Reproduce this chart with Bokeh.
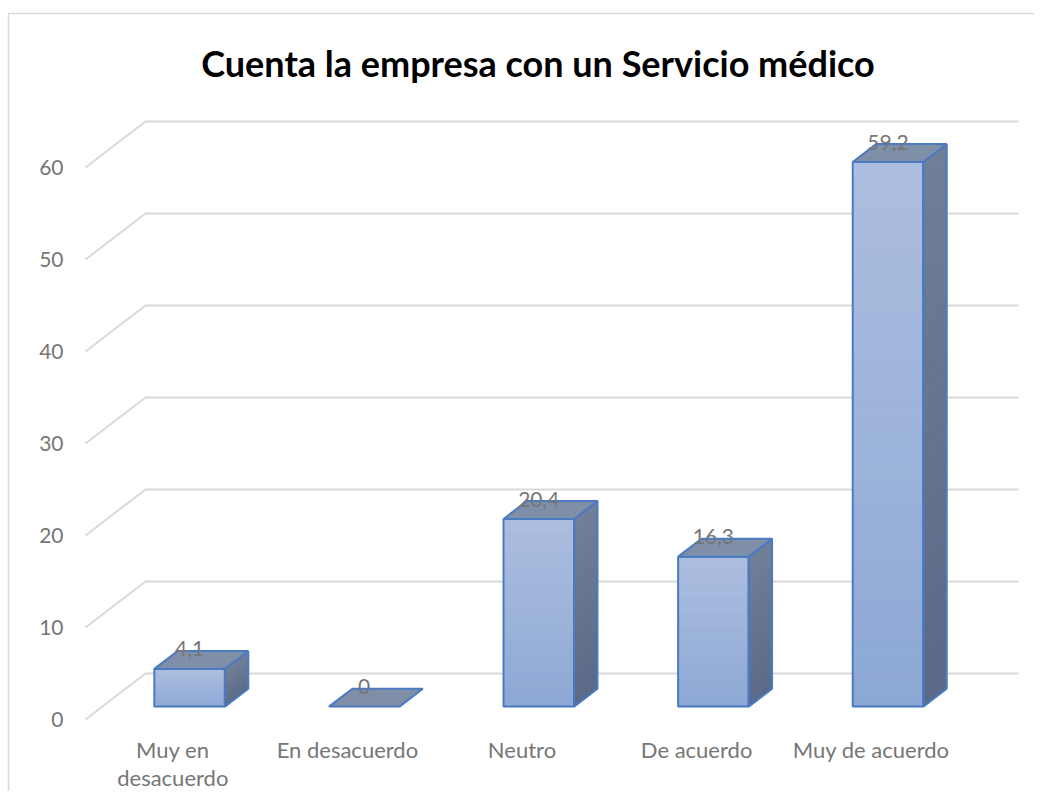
import numpy as np
from bokeh.plotting import figure
from bokeh.models import Range1d
from bokeh.core.properties import value
from bokeh.embed import file_html
from bokeh.resources import INLINE

# ---- data ----
categories = ["Muy en\ndesacuerdo", "En desacuerdo", "Neutro", "De acuerdo", "Muy de acuerdo"]
values = [4.1, 0, 20.4, 16.3, 59.2]
value_labels = ["4,1", "0", "20,4", "16,3", "59,2"]
y_ticks = [0, 10, 20, 30, 40, 50, 60]
title_text = "Cuenta la empresa con un Servicio médico"

# ---- layout / projection ----
W, H = 1034, 791
PX_X = 174.6      # px per category
PX_Y = 9.2        # px per value unit
X0_PX = 85        # canvas px of x=-0.5 (front plane)
Y0_PX = 719       # canvas px (from top) of value 0 (front plane)
xs_start = -0.5 - X0_PX / PX_X
xs_end = xs_start + W / PX_X
ys_end = Y0_PX / PX_Y
ys_start = ys_end - H / PX_Y

DX = 60 / PX_X    # full depth shift (x, data units)
DY = 46 / PX_Y    # full depth shift (y, data units)
F1, F2 = 0.28, 0.67  # bar front/back depth fractions
HW = 0.202           # half bar width

FONT = value("Lato")
GRAY = "#767676"

def P(x, v, f):
    return x + f * DX, v + f * DY

p = figure(width=W, height=H, x_range=Range1d(xs_start, xs_end),
           y_range=Range1d(ys_start, ys_end), output_backend="svg",
           toolbar_location=None, min_border=0,
           x_axis_location=None, y_axis_location=None)
p.grid.visible = False
p.outline_line_color = None
p.background_fill_color = "white"
p.border_fill_color = "white"

# chart border (left and top)
bx = xs_start + 8 / PX_X
by = ys_end - 13 / PX_Y
p.line([bx, bx, xs_end], [ys_start, by, by], line_color="#d9d9d9", line_width=1.5)

# gridlines: left diagonal + back wall
gxs, gys = [], []
for t in y_ticks:
    a = P(-0.5, t, 0)
    b = P(-0.5, t, 1)
    c = P(4.5, t, 1)
    gxs.append([a[0], b[0], c[0]])
    gys.append([a[1], b[1], c[1]])
p.multi_line(gxs, gys, line_color="#d9d9d9", line_width=2)

# y tick labels
p.text(x=[-0.5] * len(y_ticks), y=y_ticks, text=[str(t) for t in y_ticks],
       text_align="right", text_baseline="middle", x_offset=-22,
       text_font=FONT, text_font_size="21px", text_color=GRAY)

# category labels
p.text(x=list(range(len(categories))), y=[0] * len(categories), text=categories,
       text_align="center", text_baseline="top", y_offset=16,
       text_font=FONT, text_font_size="22px", text_color=GRAY,
       text_line_height=1.05)

def lerp(c0, c1, t):
    return "#%02x%02x%02x" % tuple(int(round(a + (b - a) * t)) for a, b in zip(c0, c1))

FRONT_BOT, FRONT_TOP = (141, 168, 213), (172, 190, 223)
SIDE_BOT, SIDE_TOP = (89, 105, 134), (112, 126, 151)
TOP_COL = "#808fa8"
EDGE = "#4a7bc2"
N = 40

for i, v in enumerate(values):
    cl, cr = i - HW, i + HW
    if v > 0:
        ql, qr, qb, qt, qc = [], [], [], [], []
        sx, sy, sc = [], [], []
        for k in range(N):
            lo, hi = v * k / N, v * (k + 1) / N
            t = (k + 0.5) / N
            a0 = P(cl, lo, F1); a1 = P(cr, hi, F1)
            ql.append(a0[0]); qr.append(a1[0]); qb.append(a0[1]); qt.append(a1[1])
            qc.append(lerp(FRONT_BOT, FRONT_TOP, t))
            s = [P(cr, lo, F1), P(cr, lo, F2), P(cr, hi, F2), P(cr, hi, F1)]
            sx.append([q[0] for q in s]); sy.append([q[1] for q in s])
            sc.append(lerp(SIDE_BOT, SIDE_TOP, t))
        p.quad(left=ql, right=qr, bottom=qb, top=qt, fill_color=qc, line_color=qc, line_width=0.8)
        p.patches(sx, sy, fill_color=sc, line_color=sc, line_width=0.8)
        front = [P(cl, 0, F1), P(cr, 0, F1), P(cr, v, F1), P(cl, v, F1)]
        side = [P(cr, 0, F1), P(cr, 0, F2), P(cr, v, F2), P(cr, v, F1)]
        p.patches([[q[0] for q in front], [q[0] for q in side]],
                  [[q[1] for q in front], [q[1] for q in side]],
                  fill_color=None, line_color=EDGE, line_width=2)
    top = [P(cl, v, F1), P(cr, v, F1), P(cr, v, F2), P(cl, v, F2)]
    p.patch([q[0] for q in top], [q[1] for q in top], fill_color=TOP_COL,
            line_color=EDGE, line_width=2)

# data labels
lx = [i + F1 * DX for i in range(len(values))]
ly = [v + F2 * DY for v in values]
p.text(x=lx, y=ly, text=value_labels, text_align="center", text_baseline="alphabetic",
       y_offset=-2, text_font=FONT, text_font_size="21px", text_color=GRAY)

# title
tx = xs_start + 537.5 / PX_X
ty = ys_end - 62 / PX_Y
p.text(x=[tx], y=[ty], text=[title_text], text_align="center", text_baseline="middle",
       text_font=FONT, text_font_size="36px", text_font_style="bold", text_color="#000000")

open("out.html", "w").write(file_html(p, INLINE))
